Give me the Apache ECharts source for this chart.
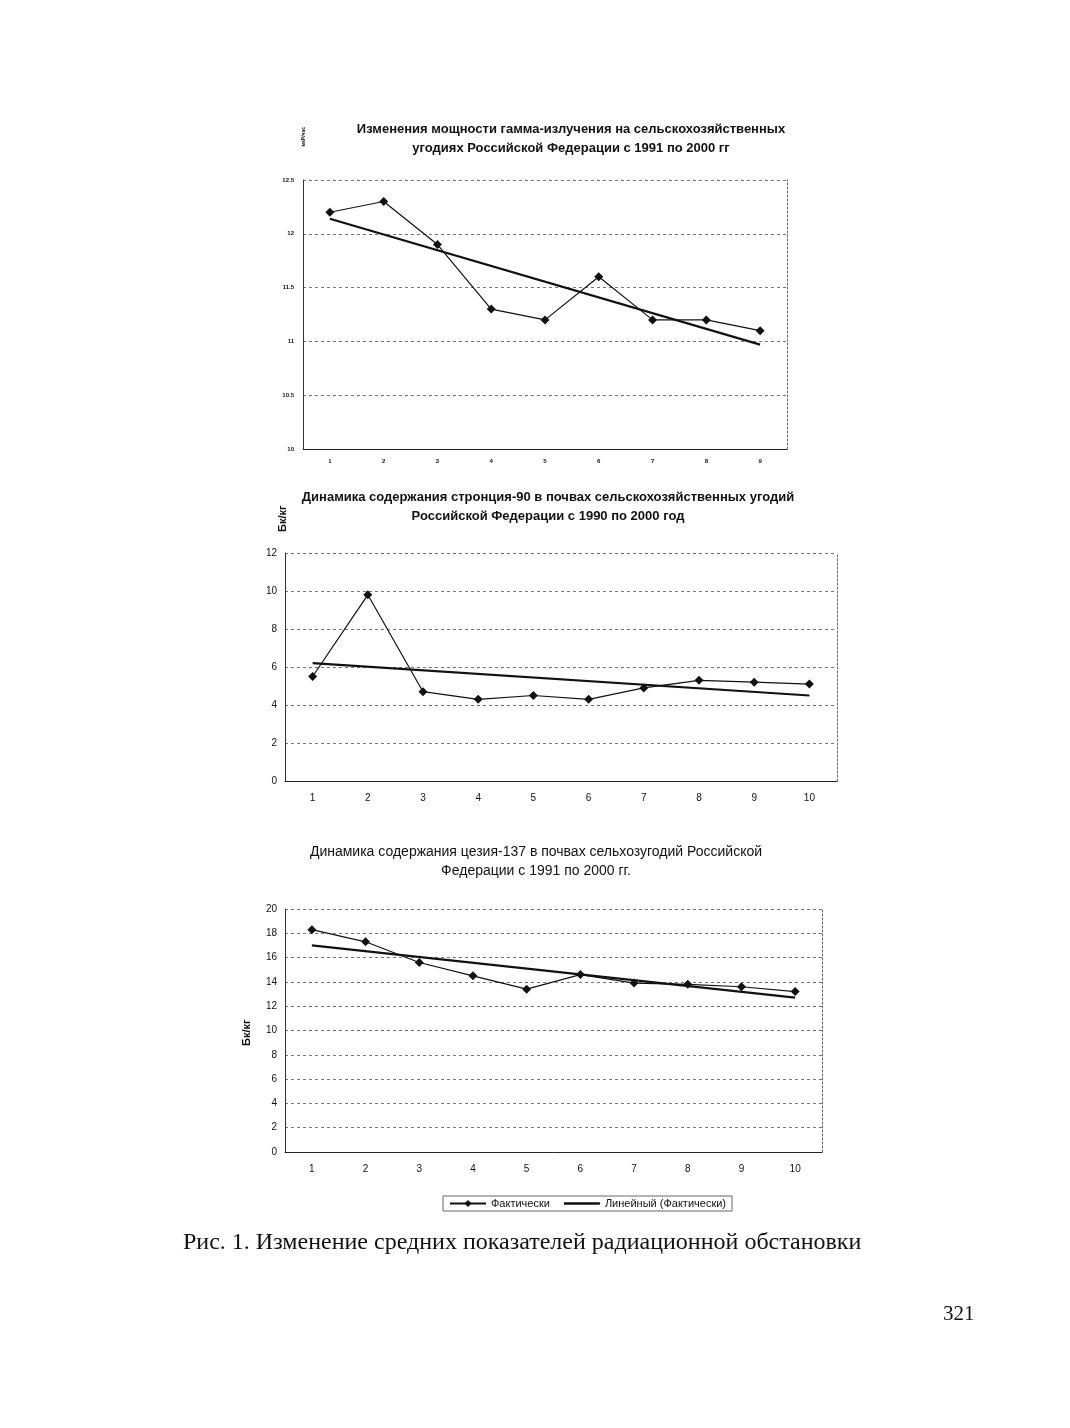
<!DOCTYPE html>
<html><head><meta charset="utf-8">
<script src="https://cdn.jsdelivr.net/npm/echarts@6/dist/echarts.min.js"></script>
<style>html,body{margin:0;padding:0;background:#fff}#c{width:1070px;height:1428px}</style>
</head><body><div id="c"></div>
<script>
// Chart 1: gamma dose rate
const cats1 = ['1','2','3','4','5','6','7','8','9'];
const gamma = [12.2, 12.3, 11.9, 11.3, 11.2, 11.6, 11.2, 11.2, 11.1];
const gammaTrend = [[0, 12.14], [8, 10.97]];
// Chart 2: strontium-90
const cats2 = ['1','2','3','4','5','6','7','8','9','10'];
const strontium = [5.5, 9.8, 4.7, 4.3, 4.5, 4.3, 4.9, 5.3, 5.2, 5.1];
const strontiumTrend = [[0, 6.2], [9, 4.5]];
// Chart 3: cesium-137
const cats3 = ['1','2','3','4','5','6','7','8','9','10'];
const cesium = [18.3, 17.3, 15.6, 14.5, 13.4, 14.6, 13.9, 13.8, 13.6, 13.2];
const cesiumTrend = [[0, 17.0], [9, 12.7]];

const title1 = 'Изменения мощности гамма-излучения на сельскохозяйственных\nугодиях Российской Федерации с 1991 по 2000 гг';
const title2 = 'Динамика содержания стронция-90 в почвах сельскохозяйственных угодий\nРоссийской Федерации с 1990 по 2000 год';
const title3 = 'Динамика содержания цезия-137 в почвах сельхозугодий Российской\nФедерации с 1991 по 2000 гг.';
const caption = 'Рис. 1. Изменение средних показателей радиационной обстановки';
const pageNo = '321';
const sName = 'Фактически', tName = 'Линейный (Фактически)';

const F = 'Liberation Sans, Arial, sans-serif';
const grids = [
  {left:303, top:180, width:484, height:269},
  {left:285, top:553, width:552, height:228},
  {left:285, top:909, width:537, height:243}
];
const yCfg = [
  {min:10, max:12.5, interval:0.5, fs:6},
  {min:0, max:12, interval:2, fs:10},
  {min:0, max:20, interval:2, fs:10}
];
const catsAll = [cats1, cats2, cats3];
const xFs = [6, 10, 10];
const xAxes = [], yAxes = [];
grids.forEach((g,i)=>{
  xAxes.push({type:'category', gridIndex:i, data:catsAll[i], boundaryGap:true,
    axisLine:{lineStyle:{color:'#222', width:1}}, axisTick:{show:false},
    axisLabel:{color:'#111', fontFamily:F, fontSize:xFs[i], margin:i===0?9:12, fontWeight:i===0?'bold':'normal'},
    splitLine:{show:false}});
  yAxes.push({type:'value', gridIndex:i, min:yCfg[i].min, max:yCfg[i].max, interval:yCfg[i].interval,
    axisLine:{show:true, lineStyle:{color:'#333', width:1}}, axisTick:{show:false},
    axisLabel:{color:'#111', fontFamily:F, fontSize:yCfg[i].fs, margin:i===0?9:8, fontWeight:i===0?'bold':'normal'},
    splitLine:{show:true, lineStyle:{color:'#777', type:[3,3], width:1}}});
  yAxes.push({type:'value', gridIndex:i, position:'right', min:yCfg[i].min, max:yCfg[i].max, interval:yCfg[i].interval,
    axisLine:{show:true, lineStyle:{color:'#666', type:[2,2], width:1}}, axisTick:{show:false},
    axisLabel:{show:false}, splitLine:{show:false}});
});
const dataAll = [gamma, strontium, cesium];
const trendAll = [gammaTrend, strontiumTrend, cesiumTrend];
const series = [];
grids.forEach((g,i)=>{
  series.push({name:sName, type:'line', xAxisIndex:i, yAxisIndex:2*i, data:dataAll[i],
    symbol:'diamond', symbolSize:9, itemStyle:{color:'#111'}, lineStyle:{color:'#111', width:1.2}, z:3});
  series.push({name:tName, type:'line', xAxisIndex:i, yAxisIndex:2*i, data:trendAll[i],
    symbol:'none', itemStyle:{color:'#111'}, lineStyle:{color:'#111', width:2.2}, z:2});
});

const chart = echarts.init(document.getElementById('c'));
chart.setOption({
  backgroundColor:'#fff',
  animation:false,
  title:[
    {text:title1, left:566, top:115, textAlign:'center', textStyle:{fontFamily:F, fontSize:13, fontWeight:'bold', color:'#111', lineHeight:19}},
    {text:title2, left:543, top:483, textAlign:'center', textStyle:{fontFamily:F, fontSize:13, fontWeight:'bold', color:'#111', lineHeight:19}},
    {text:title3, left:531, top:838, textAlign:'center', textStyle:{fontFamily:F, fontSize:14, fontWeight:'normal', color:'#111', lineHeight:19}},
    {text:caption, left:178, top:1226, textStyle:{fontFamily:'Liberation Serif, Times New Roman, serif', fontSize:24, fontWeight:'normal', color:'#111'}},
    {text:pageNo, left:938, top:1299, textStyle:{fontFamily:'Liberation Serif, Times New Roman, serif', fontSize:21, fontWeight:'normal', color:'#111'}}
  ],
  grid:grids,
  xAxis:xAxes,
  yAxis:yAxes,
  legend:{data:[sName, {name:tName, icon:'path://M0,4 L30,4 L30,6 L0,6 Z'}], left:443, top:1196, itemGap:14, itemWidth:36, itemHeight:9,
    padding:[2,6], borderColor:'#666', borderWidth:1,
    textStyle:{fontFamily:F, fontSize:11, color:'#111'}},
  graphic:[
    {type:'text', left:301, top:127, rotation:Math.PI/2, style:{text:'мкР/час', font:'bold 5px '+F, fill:'#111'}},
    {type:'text', x:277, y:532, rotation:Math.PI/2, style:{text:'Бк/кг', font:'bold 11px '+F, fill:'#111', textAlign:'left', textVerticalAlign:'top'}},
    {type:'text', x:241, y:1046, rotation:Math.PI/2, style:{text:'Бк/кг', font:'bold 11px '+F, fill:'#111', textAlign:'left', textVerticalAlign:'top'}}
  ],
  series:series
});
</script></body></html>
